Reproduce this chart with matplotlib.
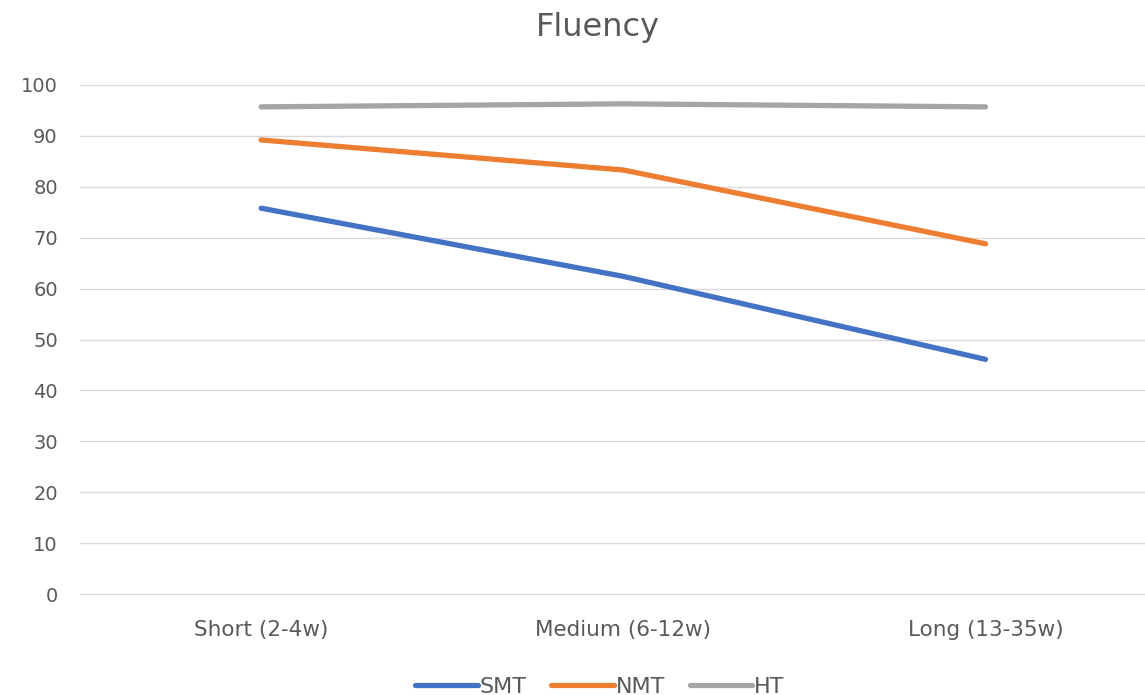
import matplotlib.pyplot as plt

categories = ["Short (2-4w)", "Medium (6-12w)", "Long (13-35w)"]
smt = [75.8, 62.4, 46.1]
nmt = [89.2, 83.3, 68.8]
ht = [95.7, 96.3, 95.7]
y_ticks = [0, 10, 20, 30, 40, 50, 60, 70, 80, 90, 100]

series = [
    ("SMT", smt, "#4472C4"),
    ("NMT", nmt, "#ED7D31"),
    ("HT", ht, "#A5A5A5"),
]

fig = plt.figure(figsize=(11.45, 6.95), dpi=100)
ax = fig.add_axes([0.0699, 0.1453, 0.949, 0.7324])

x = list(range(len(categories)))
for name, vals, color in series:
    ax.plot(x, vals, color=color, lw=3.8, solid_capstyle="round", label=name)

ax.set_xlim(-0.5, len(categories) - 0.5)
ax.set_ylim(0, 100)
ax.set_yticks(y_ticks)
ax.set_xticks(x)
ax.set_xticklabels(categories, fontsize=15.5, color="#595959")
ax.tick_params(axis="y", labelsize=14, labelcolor="#595959", length=0, pad=16)
ax.tick_params(axis="x", length=0, pad=19)
ax.grid(axis="y", color="#D9D9D9", lw=1)
ax.set_axisbelow(True)
for side in ["left", "right", "top"]:
    ax.spines[side].set_visible(False)
ax.spines["bottom"].set_color("#D9D9D9")

fig.text(0.522, 0.96, "Fluency", ha="center", va="center", fontsize=23, color="#595959")

fig.legend(loc="center", bbox_to_anchor=(0.524, 0.012), ncol=3, frameon=False,
           fontsize=16, handlelength=2.8, handletextpad=0.1, columnspacing=1.1,
           labelcolor="#595959")

fig.savefig("out.png", dpi=100)
